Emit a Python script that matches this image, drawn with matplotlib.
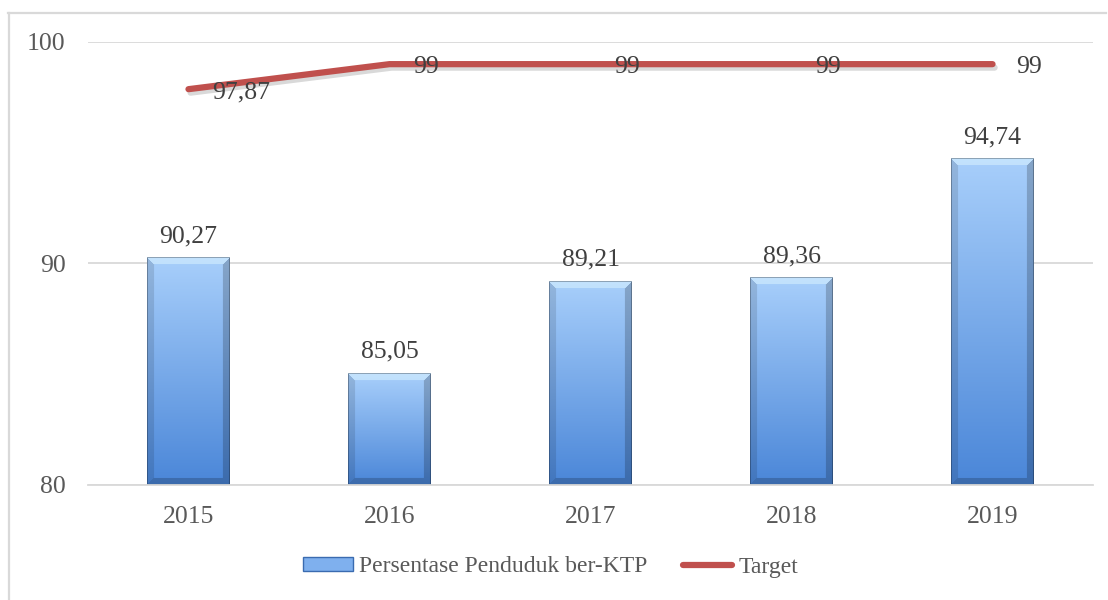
import matplotlib

matplotlib.use("Agg")

import matplotlib.pyplot as plt
import matplotlib.patheffects as pe
import numpy as np
from matplotlib.lines import Line2D
from matplotlib.patches import Patch

YEARS = ["2015", "2016", "2017", "2018", "2019"]
KTP_PCT = [90.27, 85.05, 89.21, 89.36, 94.74]
TARGET = [97.87, 99, 99, 99, 99]

BAR_TOP = np.array([0xA8, 0xCF, 0xFB]) / 255
BAR_BOTTOM = np.array([0x4A, 0x86, 0xD8]) / 255
RED = "#C0504D"
TEXT = "#404040"
GRID = "#D9D9D9"


def fmt(v):
    s = f"{v:.2f}".rstrip("0").rstrip(".")
    return s.replace(".", ",")


def bevel_image(h_px, w_px, bev=7):
    h_px = max(int(h_px), 2)
    w_px = max(int(w_px), 2)
    yy, xx = np.mgrid[0:h_px, 0:w_px]
    t = (yy / (h_px - 1))[..., None]
    img = BAR_TOP * (1 - t) + BAR_BOTTOM * t
    d_top = yy
    d_bot = h_px - 1 - yy
    d_left = xx
    d_right = w_px - 1 - xx
    dmin = np.minimum.reduce([d_top, d_bot, d_left, d_right])
    edge = dmin < bev
    top = edge & (d_top == dmin)
    bot = edge & (d_bot == dmin) & ~top
    left = edge & (d_left == dmin) & ~top & ~bot
    right = edge & (d_right == dmin) & ~top & ~bot & ~left
    img[top] = img[top] * 0.45 + np.array([0.85, 0.95, 1.0]) * 0.55
    img[left] *= 0.88
    img[right] *= 0.80
    img[bot] *= 0.80
    outline = dmin < 1
    img[outline] = img[outline] * 0.72
    return img


plt.rcParams["font.family"] = ["Liberation Serif", "DejaVu Serif"]

fig = plt.figure(figsize=(11.08, 6.0), dpi=100)
ax = fig.add_axes([0.0794, 0.1917, 0.9071, 0.7383])

x = np.arange(len(YEARS))
width = 0.41
ymin, ymax = 80, 100
ax.set_xlim(-0.5, len(YEARS) - 0.5)
ax.set_ylim(ymin, ymax)

ax_w_px = 0.9071 * 1108
ax_h_px = 0.7383 * 600
px_per_x = ax_w_px / len(YEARS)
px_per_y = ax_h_px / (ymax - ymin)

for xi, v in zip(x, KTP_PCT):
    img = bevel_image((v - ymin) * px_per_y, width * px_per_x)
    ax.imshow(img, extent=(xi - width / 2, xi + width / 2, ymin, v),
              aspect="auto", origin="upper", zorder=2, interpolation="bilinear")
    ax.annotate(fmt(v), (xi, v), xytext=(0, 11), textcoords="offset points",
                ha="center", va="baseline", fontsize=18.5, color=TEXT, zorder=5)

ax.plot(x, TARGET, color=RED, linewidth=4.5, solid_capstyle="round", zorder=3,
        path_effects=[pe.SimpleLineShadow(offset=(1.5, -2.5), alpha=0.15, shadow_color="black"),
                      pe.Normal()])
for xi, v in zip(x, TARGET):
    ax.annotate(fmt(v), (xi, v), xytext=(17, -2), textcoords="offset points",
                ha="left", va="center", fontsize=18.5, color=TEXT, zorder=5)

ax.set_yticks([80, 90, 100])
ax.grid(True, axis="y", color=GRID, linewidth=1.3, zorder=0)
ax.set_axisbelow(True)
for side in ["top", "right", "left"]:
    ax.spines[side].set_visible(False)
ax.spines["bottom"].set_color(GRID)
ax.spines["bottom"].set_linewidth(1.3)
ax.set_xticks(x)
ax.set_xticklabels(YEARS)
ax.tick_params(axis="both", length=0, labelsize=18.5, labelcolor="#595959")
ax.tick_params(axis="x", pad=15)
ax.tick_params(axis="y", pad=16)

handles = [
    Patch(facecolor="#7FB0EE", edgecolor="#3A6BB0", linewidth=1.0, label="Persentase Penduduk ber-KTP"),
    Line2D([], [], color=RED, linewidth=4.5, solid_capstyle="round", label="Target"),
]
fig.legend(handles=handles, loc="center", bbox_to_anchor=(0.497, 0.055), ncol=2,
           frameon=False, fontsize=17, labelcolor="#595959", handlelength=2.1,
           handleheight=0.5, handletextpad=0.25, columnspacing=1.5)

# outer chart frame (top and left edges visible)
fig.add_artist(Line2D([8 / 1108, 1106 / 1108], [1 - 13 / 600, 1 - 13 / 600],
                      transform=fig.transFigure, color=GRID, linewidth=1.6))
fig.add_artist(Line2D([9 / 1108, 9 / 1108], [1 - 13 / 600, 0],
                      transform=fig.transFigure, color=GRID, linewidth=1.6))

fig.savefig("out.png", dpi=100)
